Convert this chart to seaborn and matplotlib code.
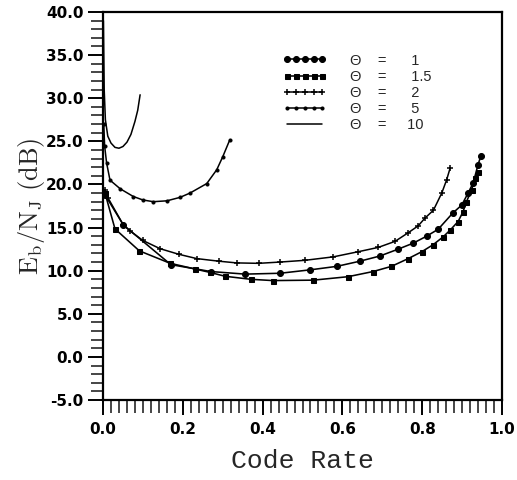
import numpy as np
import pandas as pd
import matplotlib
matplotlib.use("Agg")
import matplotlib.pyplot as plt
import seaborn as sns
from matplotlib.ticker import MultipleLocator, FormatStrFormatter

# ---- data ----
theta_labels = ["1", "1.5", "2", "5", "10"]

r_t1 = [0.005, 0.051, 0.17, 0.27, 0.356, 0.444, 0.52, 0.586, 0.644, 0.694, 0.74,
        0.778, 0.811, 0.84, 0.877, 0.899, 0.915, 0.928, 0.94, 0.947]
db_t1 = [18.8, 15.3, 10.7, 9.9, 9.6, 9.7, 10.1, 10.5, 11.1, 11.7, 12.5,
         13.2, 14.0, 14.8, 16.7, 17.6, 19.0, 20.2, 22.3, 23.3]

r_t15 = [0.005, 0.03, 0.091, 0.168, 0.23, 0.268, 0.306, 0.37, 0.426, 0.527, 0.614,
         0.677, 0.723, 0.765, 0.799, 0.827, 0.852, 0.87, 0.89, 0.902, 0.911,
         0.924, 0.932, 0.94]
db_t15 = [19.0, 14.85, 12.3, 10.86, 10.2, 9.8, 9.35, 9.0, 8.85, 8.9, 9.3,
          9.9, 10.5, 11.4, 12.2, 13.0, 13.9, 14.7, 15.7, 16.8, 18.0,
          19.4, 20.7, 21.5]

r_t2 = [0.005, 0.013, 0.051, 0.068, 0.1, 0.143, 0.19, 0.235, 0.29, 0.335, 0.39,
        0.444, 0.506, 0.577, 0.64, 0.69, 0.732, 0.765, 0.79, 0.807, 0.828,
        0.849, 0.861, 0.87]
db_t2 = [19.4, 18.4, 15.3, 14.6, 13.5, 12.55, 11.9, 11.4, 11.1, 10.9, 10.85,
         11.0, 11.2, 11.6, 12.2, 12.7, 13.4, 14.4, 15.2, 16.1, 17.0,
         19.0, 20.5, 21.9]

r_t5 = [0.002, 0.004, 0.009, 0.0175, 0.043, 0.076, 0.1, 0.126, 0.16, 0.193,
        0.218, 0.26, 0.285, 0.30, 0.318]
db_t5 = [27.0, 24.5, 22.5, 20.5, 19.5, 18.6, 18.2, 18.0, 18.1, 18.5,
         19.0, 20.1, 21.7, 23.2, 25.2]

r_t10 = [0.001, 0.003, 0.006, 0.012, 0.02, 0.03, 0.04, 0.05, 0.06, 0.07,
         0.08, 0.087, 0.093]
db_t10 = [39.0, 31.0, 27.5, 25.6, 24.8, 24.3, 24.2, 24.4, 24.9, 25.8,
          27.3, 28.6, 30.4]

x_ticks = [0.0, 0.2, 0.4, 0.6, 0.8, 1.0]
y_ticks = [-5.0, 0.0, 5.0, 10.0, 15.0, 20.0, 25.0, 30.0, 35.0, 40.0]

# ---- style ----
sns.set_style("ticks")
plt.rcParams["font.family"] = ["DejaVu Sans"]
plt.rcParams["mathtext.fontset"] = "cm"

fig = plt.figure(figsize=(5.17, 4.80), dpi=100)
ax = fig.add_axes([103 / 517, 80 / 480, 399 / 517, 388 / 480])

series = [
    (r_t1, db_t1, dict(marker="o", markersize=4.3, lw=1.15)),
    (r_t15, db_t15, dict(marker="s", markersize=3.6, lw=1.15)),
    (r_t2, db_t2, dict(marker="+", markersize=4.0, mew=1.1, lw=1.1)),
    (r_t5, db_t5, dict(marker="o", markersize=2.2, lw=1.1)),
    (r_t10, db_t10, dict(marker=None, lw=1.1)),
]

handles = []
for (rx, dy, kw), lab in zip(series, theta_labels):
    df = pd.DataFrame({"rate": rx, "db": dy})
    sns.lineplot(data=df, x="rate", y="db", ax=ax, color="black",
                 estimator=None, sort=False, markeredgecolor="black", **kw)
    handles.append(ax.lines[-1])

ax.set_xlim(0.0, 1.0)
ax.set_ylim(-5.0, 40.0)
ax.set_xticks(x_ticks)
ax.set_yticks(y_ticks)
ax.xaxis.set_minor_locator(MultipleLocator(0.02))
ax.yaxis.set_minor_locator(MultipleLocator(1.0))
ax.xaxis.set_major_formatter(FormatStrFormatter("%.1f"))
ax.yaxis.set_major_formatter(FormatStrFormatter("%.1f"))

for s in ax.spines.values():
    s.set_linewidth(1.6)
    s.set_color("black")
    s.set_visible(True)

ax.tick_params(which="major", direction="out", length=11, width=1.4, pad=3.0,
               colors="black", top=False, right=False)
ax.tick_params(which="minor", direction="out", length=9, width=1.2,
               top=False, right=False)
ax.tick_params(axis="x", which="major", pad=4.5)
for t in ax.get_xticklabels() + ax.get_yticklabels():
    t.set_fontweight("bold")
    t.set_fontsize(11)
    t.set_family("DejaVu Sans")

ax.set_xlabel("Code Rate", family="Liberation Mono", fontsize=19, labelpad=9)
ax.set_ylabel(r"$\mathrm{E_b/N_J\ (dB)}$", fontsize=19, labelpad=-1)

labels = ["\u0398    =      " + v for v in theta_labels[:4]] + ["\u0398    =     10"]
leg = ax.legend(handles, labels, loc="upper left", bbox_to_anchor=(0.451, 0.893),
                frameon=False, borderpad=0, borderaxespad=0, handlelength=3.0,
                handletextpad=1.6, labelspacing=0.15, numpoints=5,
                prop={"family": "Liberation Sans", "size": 10.5})

fig.savefig("out.png", dpi=100)
